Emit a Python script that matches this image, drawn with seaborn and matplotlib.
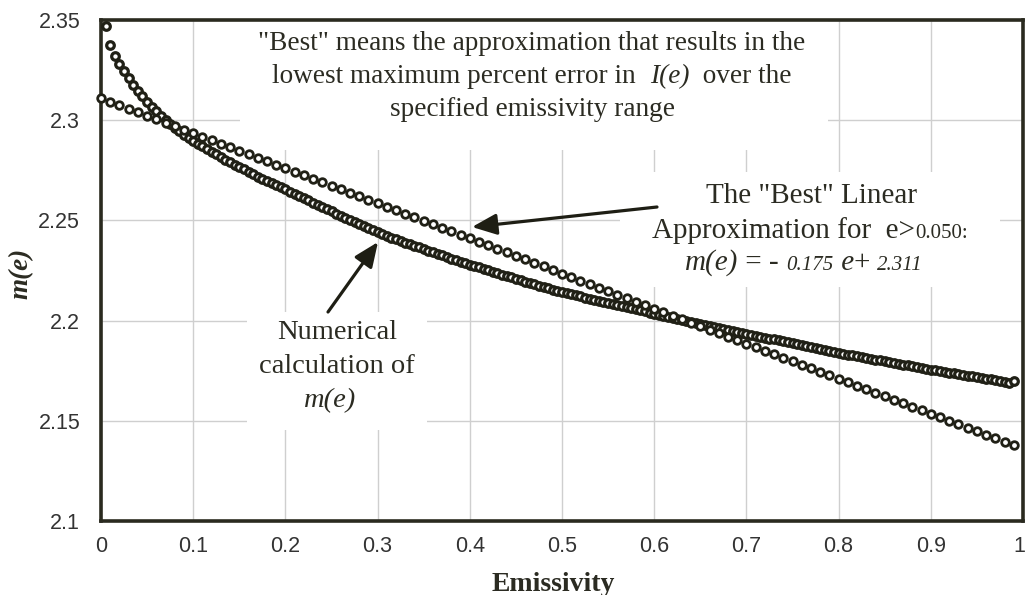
import numpy as np
import pandas as pd
import matplotlib
matplotlib.use("Agg")
import matplotlib.pyplot as plt
import seaborn as sns
from matplotlib.patches import Rectangle
from matplotlib.transforms import IdentityTransform, ScaledTranslation

# ---------------- data ----------------
x_ticks = [0, 0.1, 0.2, 0.3, 0.4, 0.5, 0.6, 0.7, 0.8, 0.9, 1.0]
x_tick_labels = ["0", "0.1", "0.2", "0.3", "0.4", "0.5", "0.6", "0.7", "0.8", "0.9", "1"]
y_ticks = [2.1, 2.15, 2.2, 2.25, 2.3, 2.35]
y_tick_labels = ["2.1", "2.15", "2.2", "2.25", "2.3", "2.35"]

# numerical calculation of m(e), e = 0.005 ... 0.990 step 0.005
e_numerical = np.linspace(0.005, 0.99, 198)
m_numerical = [
    2.3470, 2.3375, 2.3320, 2.3280, 2.3245, 2.3210, 2.3178, 2.3148, 2.3120, 2.3093,
    2.3068, 2.3045, 2.3023, 2.3002, 2.2982, 2.2963, 2.2945, 2.2928, 2.2912, 2.2897,
    2.2883, 2.2869, 2.2855, 2.2842, 2.2829, 2.2816, 2.2803, 2.2790, 2.2778, 2.2766,
    2.2754, 2.2742, 2.2730, 2.2719, 2.2708, 2.2697, 2.2686, 2.2675, 2.2665, 2.2655,
    2.2644, 2.2633, 2.2622, 2.2611, 2.2600, 2.2589, 2.2578, 2.2567, 2.2556, 2.2545,
    2.2534, 2.2524, 2.2514, 2.2503, 2.2492, 2.2482, 2.2471, 2.2461, 2.2450, 2.2440,
    2.2431, 2.2422, 2.2413, 2.2405, 2.2397, 2.2389, 2.2381, 2.2373, 2.2365, 2.2357,
    2.2349, 2.2341, 2.2333, 2.2325, 2.2317, 2.2309, 2.2301, 2.2293, 2.2286, 2.2279,
    2.2272, 2.2265, 2.2258, 2.2251, 2.2244, 2.2237, 2.2230, 2.2223, 2.2216, 2.2209,
    2.2202, 2.2195, 2.2188, 2.2182, 2.2175, 2.2168, 2.2162, 2.2155, 2.2149, 2.2143,
    2.2137, 2.2132, 2.2126, 2.2121, 2.2115, 2.2110, 2.2104, 2.2099, 2.2093, 2.2088,
    2.2083, 2.2077, 2.2072, 2.2067, 2.2061, 2.2056, 2.2051, 2.2046, 2.2040, 2.2035,
    2.2030, 2.2025, 2.2020, 2.2015, 2.2010, 2.2005, 2.2000, 2.1995, 2.1990, 2.1985,
    2.1980, 2.1975, 2.1970, 2.1965, 2.1960, 2.1955, 2.1950, 2.1945, 2.1940, 2.1935,
    2.1930, 2.1925, 2.1920, 2.1915, 2.1910, 2.1906, 2.1901, 2.1896, 2.1891, 2.1886,
    2.1881, 2.1877, 2.1872, 2.1867, 2.1862, 2.1857, 2.1852, 2.1848, 2.1843, 2.1838,
    2.1834, 2.1830, 2.1826, 2.1821, 2.1817, 2.1813, 2.1809, 2.1805, 2.1801, 2.1797,
    2.1792, 2.1788, 2.1784, 2.1780, 2.1776, 2.1772, 2.1767, 2.1763, 2.1759, 2.1755,
    2.1751, 2.1748, 2.1744, 2.1740, 2.1737, 2.1733, 2.1729, 2.1725, 2.1722, 2.1718,
    2.1714, 2.1711, 2.1707, 2.1703, 2.1699, 2.1693, 2.1690, 2.1700,
]

# "best" linear approximation, e = 0.00 ... 0.99 step 0.01
e_linear = np.linspace(0.0, 0.99, 100)
m_linear = [
    2.3110, 2.3093, 2.3075, 2.3058, 2.3040, 2.3023, 2.3005, 2.2988, 2.2970, 2.2953,
    2.2935, 2.2918, 2.2900, 2.2883, 2.2865, 2.2848, 2.2830, 2.2813, 2.2795, 2.2778,
    2.2760, 2.2743, 2.2725, 2.2708, 2.2690, 2.2673, 2.2655, 2.2638, 2.2620, 2.2603,
    2.2585, 2.2568, 2.2550, 2.2533, 2.2515, 2.2498, 2.2480, 2.2463, 2.2445, 2.2428,
    2.2410, 2.2393, 2.2375, 2.2358, 2.2340, 2.2323, 2.2305, 2.2288, 2.2270, 2.2253,
    2.2235, 2.2218, 2.2200, 2.2183, 2.2165, 2.2148, 2.2130, 2.2113, 2.2095, 2.2078,
    2.2060, 2.2043, 2.2025, 2.2008, 2.1990, 2.1973, 2.1955, 2.1938, 2.1920, 2.1903,
    2.1885, 2.1868, 2.1850, 2.1833, 2.1815, 2.1798, 2.1780, 2.1763, 2.1745, 2.1728,
    2.1710, 2.1693, 2.1675, 2.1658, 2.1640, 2.1623, 2.1605, 2.1588, 2.1570, 2.1553,
    2.1535, 2.1518, 2.1500, 2.1483, 2.1465, 2.1448, 2.1430, 2.1413, 2.1395, 2.1378,
]

# ---------------- styling ----------------
sns.set_style("white")
plt.rcParams["font.family"] = ["Liberation Sans", "DejaVu Sans"]

W, H = 1026, 595
DARK = "#202016"
TEXT = "#2b2b22"
SERIF = ["Liberation Serif", "DejaVu Serif"]

fig = plt.figure(figsize=(W / 100, H / 100), dpi=100)
AX_L, AX_R, AX_T, AX_B = 101, 1023, 20, 521
ax = fig.add_axes([AX_L / W, 1 - AX_B / H, (AX_R - AX_L) / W, (AX_B - AX_T) / H])

sns.scatterplot(x=e_numerical, y=m_numerical, ax=ax, marker="o", s=30,
                color="white", edgecolor=DARK, linewidth=2.3, zorder=3, clip_on=False)
sns.scatterplot(x=e_linear, y=m_linear, ax=ax, marker="o", s=30,
                color="white", edgecolor=DARK, linewidth=2.0, zorder=3, clip_on=False)

ax.set_xlim(0, 1)
ax.set_ylim(2.1, 2.35)
ax.set_xticks(x_ticks)
ax.set_xticklabels(x_tick_labels)
ax.set_yticks(y_ticks)
ax.set_yticklabels(y_tick_labels)
ax.tick_params(axis="x", length=0, pad=11, labelsize=15.5, labelcolor="#333333")
ax.tick_params(axis="y", length=6, width=1, color="#aaaaaa", direction="out",
               pad=9, labelsize=15.5, labelcolor="#333333")
# keep the last x label ("1") inside the canvas
last = ax.get_xticklabels()[-1]
last.set_transform(last.get_transform() + ScaledTranslation(-4 / 100, 0, fig.dpi_scale_trans))
ax.set_xlabel("")
ax.set_ylabel("")
ax.grid(True, color="#cfcfcf", linewidth=1.0)
ax.set_axisbelow(True)
for sp in ax.spines.values():
    sp.set_visible(True)
    sp.set_color("#2a2a1f")
    sp.set_linewidth(2.6)


def px_box(x0, y0, x1, y1):
    """white cover box given in pixel coordinates (top-left origin)"""
    fx0 = (x0 - AX_L) / (AX_R - AX_L)
    fx1 = (x1 - AX_L) / (AX_R - AX_L)
    fy0 = (AX_B - y1) / (AX_B - AX_T)
    fy1 = (AX_B - y0) / (AX_B - AX_T)
    ax.add_patch(Rectangle((fx0, fy0), fx1 - fx0, fy1 - fy0, transform=ax.transAxes,
                           facecolor="white", edgecolor="none", zorder=1))


px_box(240, 21, 828, 150)
px_box(620, 172, 1000, 287)
px_box(247, 312, 427, 430)

renderer = fig.canvas.get_renderer()


def mixed_line(cx, baseline, pieces):
    texts = []
    for s, kw in pieces:
        t = fig.text(0, 0, s, transform=IdentityTransform(), ha="left", va="baseline",
                     color=TEXT, zorder=5, **kw)
        texts.append(t)
    widths = [t.get_window_extent(renderer).width for t in texts]
    x = cx - sum(widths) / 2
    for t, w in zip(texts, widths):
        t.set_position((x, H - baseline))
        x += w


big = dict(family=SERIF, fontsize=19.6)
big_i = dict(family=SERIF, fontsize=19.6, style="italic")
mixed_line(532, 50, [('"Best" means the approximation that results in the', big)])
mixed_line(532, 83, [("lowest maximum percent error in  ", big), ("I(e)", big_i),
                     ("  over the", big)])
mixed_line(532, 116, [("specified emissivity range", big)])

r = dict(family=SERIF, fontsize=21)
r_i = dict(family=SERIF, fontsize=21, style="italic")
s_n = dict(family=SERIF, fontsize=15)
s_i = dict(family=SERIF, fontsize=15, style="italic")
mixed_line(811, 203, [('The "Best" Linear', r)])
mixed_line(810, 238, [("Approximation for  e>", r), ("0.050:", s_n)])
mixed_line(804, 270, [("m(e)", r_i), (" = - ", r), ("0.175", s_i), (" e", r_i),
                      ("+ ", r), ("2.311", s_i)])

n = dict(family=SERIF, fontsize=20.5)
n_i = dict(family=SERIF, fontsize=20.5, style="italic")
mixed_line(337, 339, [("Numerical", n)])
mixed_line(337, 373, [("calculation of", n)])
mixed_line(330, 407, [("m(e)", n_i)])

arrow = dict(arrowstyle="-|>,head_length=0.75,head_width=0.32", color="#1e1e14",
             lw=2.3, mutation_scale=20, shrinkA=0, shrinkB=0)
ax.annotate("", xy=(472, H - 227), xytext=(657, H - 207),
            xycoords="figure pixels", textcoords="figure pixels",
            arrowprops=arrow, zorder=5)
ax.annotate("", xy=(378, H - 242), xytext=(328, H - 312),
            xycoords="figure pixels", textcoords="figure pixels",
            arrowprops=arrow, zorder=5)

fig.text(21 / W, 1 - 273 / H, "m(e)", rotation=90, ha="center", va="center",
         family=SERIF, fontsize=19.5, fontweight="bold", style="italic", color=TEXT)
fig.text(553 / W, 1 - 591 / H, "Emissivity", ha="center", va="baseline",
         family=SERIF, fontsize=20, fontweight="bold", color=TEXT)

fig.savefig("out.png", dpi=100, facecolor="white")
